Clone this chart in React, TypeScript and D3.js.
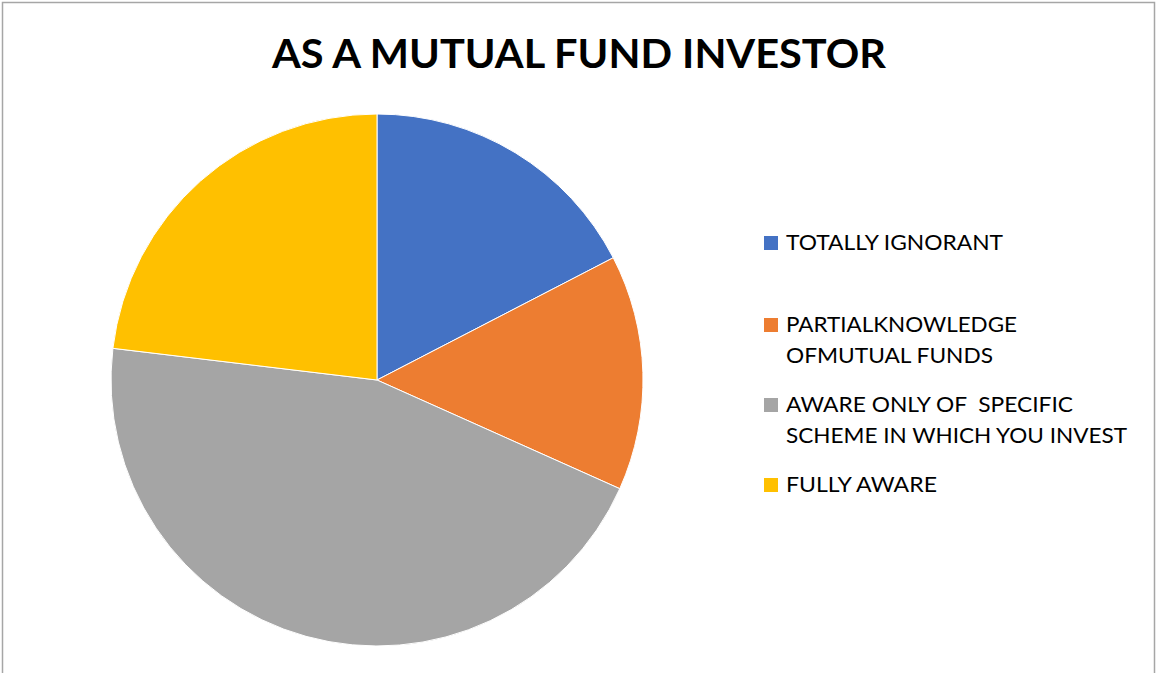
import React from "react";
import * as d3 from "d3";

const title = "AS A MUTUAL FUND INVESTOR";
const categories = [
  "TOTALLY IGNORANT",
  "PARTIALKNOWLEDGE OFMUTUAL FUNDS",
  "AWARE ONLY OF  SPECIFIC SCHEME IN WHICH YOU INVEST",
  "FULLY AWARE",
];
const legendLines = [
  ["TOTALLY IGNORANT"],
  ["PARTIALKNOWLEDGE", "OFMUTUAL FUNDS"],
  ["AWARE ONLY OF  SPECIFIC", "SCHEME IN WHICH YOU INVEST"],
  ["FULLY AWARE"],
];
const legendWidths = [[217], [231, 207], [287, 341], [151]];
const values = [17.4, 14.3, 45.2, 23.1];
const colors = ["#4472C4", "#ED7D31", "#A5A5A5", "#FFC000"];

const W = 1156;
const H = 673;
const cx = 377;
const cy = 380;
const R = 266;
const FONT = "Lato, 'Open Sans', sans-serif";

export default function App() {
  const pie = d3
    .pie<number>()
    .sort(null)
    .value((d) => d)
    .startAngle(0)
    .endAngle(2 * Math.PI);
  const arcs = pie(values);
  const arc = d3.arc<d3.PieArcDatum<number>>().innerRadius(0).outerRadius(R);

  const legendBaselines = [[250], [332, 363], [412, 443], [492]];

  return (
    <svg
      width={W}
      height={H}
      style={{ position: "absolute", left: 0, top: 0, background: "#fff" }}
    >
      <rect x={0} y={0} width={W} height={H} fill="#fff" />
      <rect
        x={2.5}
        y={2.5}
        width={1152}
        height={720}
        fill="none"
        stroke="#A6A6A6"
        strokeWidth={1.5}
      />
      <text
        x={272}
        y={68}
        fontFamily={FONT}
        fontWeight={700}
        fontSize={41}
        fill="#000"
        textLength={614}
        lengthAdjust="spacingAndGlyphs"
      >
        {title}
      </text>
      <g transform={`translate(${cx},${cy})`}>
        {arcs.map((a, i) => (
          <path
            key={categories[i]}
            d={arc(a) || ""}
            fill={colors[i]}
            stroke="#fff"
            strokeWidth={1}
          />
        ))}
      </g>
      {categories.map((c, i) => (
        <g key={c}>
          <rect
            x={764}
            y={legendBaselines[i][0] - 14}
            width={14}
            height={14}
            fill={colors[i]}
          />
          {legendLines[i].map((ln, j) => (
            <text
              key={j}
              x={786}
              y={legendBaselines[i][j]}
              fontFamily={FONT}
              fontSize={22}
              fill="#000"
              textLength={legendWidths[i][j]}
              lengthAdjust="spacingAndGlyphs"
              style={{ whiteSpace: "pre" }}
            >
              {ln}
            </text>
          ))}
        </g>
      ))}
    </svg>
  );
}
